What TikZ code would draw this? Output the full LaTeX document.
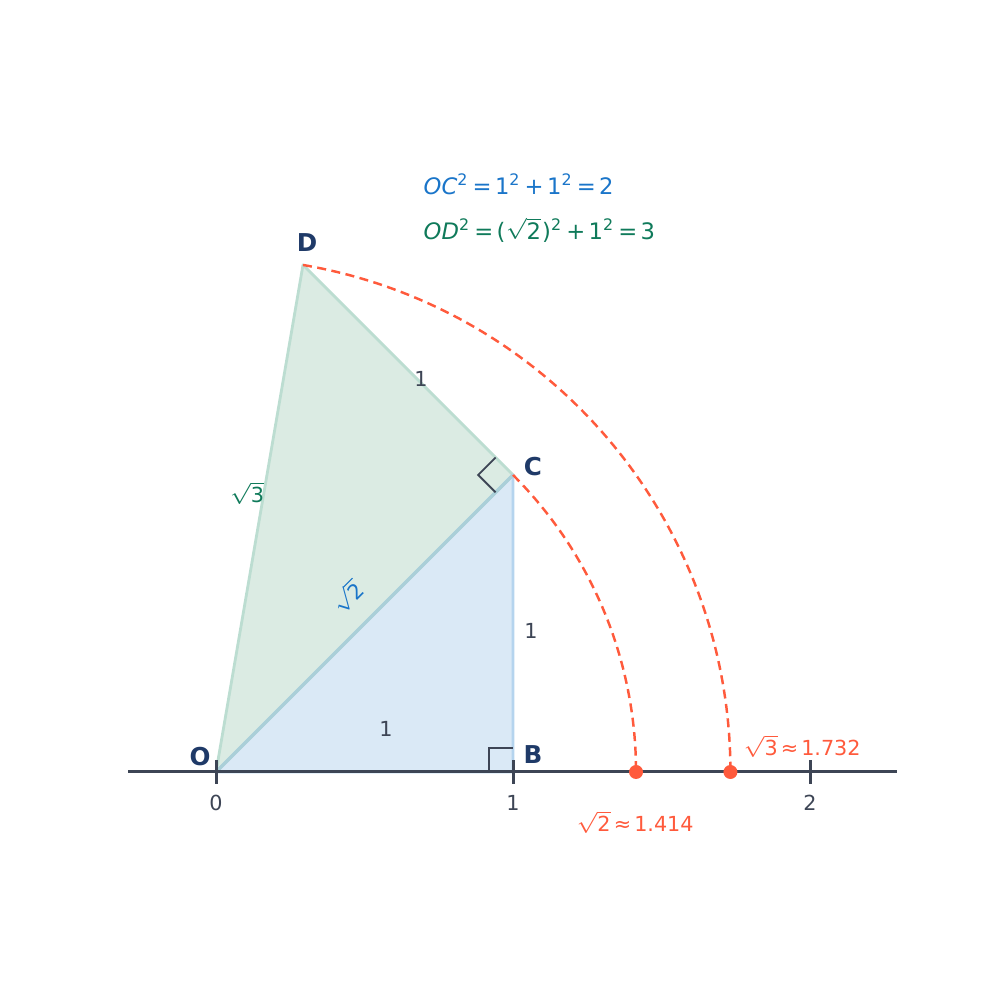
\documentclass[tikz,border=0pt]{standalone}
\usepackage{fontspec}
\setmainfont{DejaVu Sans}
\definecolor{navy}{HTML}{1F3A68}
\definecolor{axisgray}{HTML}{3D4555}
\definecolor{sidegray}{HTML}{3D4555}
\definecolor{rootblue}{HTML}{1A75C9}
\definecolor{rootgreen}{HTML}{0F7A5A}
\definecolor{arcred}{HTML}{FF5A3C}
\definecolor{fillblue}{HTML}{DAE9F6}
\definecolor{lineblue}{HTML}{B5D4EE}
\definecolor{fillgreen}{HTML}{DBEBE3}
\definecolor{linegreen}{HTML}{BCDDD1}
\definecolor{lineboth}{HTML}{AACFD8}
\newcommand{\op}[1]{\hspace{0.15em}#1\hspace{0.15em}}
\tikzset{
  pointlabel/.style={inner sep=0pt,text=navy,font=\fontsize{7}{8}\selectfont\bfseries},
  ticklabel/.style={inner sep=0pt,text=sidegray,font=\fontsize{5.9}{7}\selectfont},
  sidelabel/.style={inner sep=0pt,text=sidegray,font=\fontsize{5.9}{7}\selectfont},
  eqlabel/.style={inner sep=0pt,anchor=west,font=\fontsize{6.45}{8}\selectfont},
  arcline/.style={draw=arcred,line width=0.7pt,dash pattern=on 0.09cm off 0.055cm},
  marker/.style={circle,fill=arcred,inner sep=0pt,minimum size=0.14cm}
}
\begin{document}
\begin{tikzpicture}[x=2.97cm,y=2.97cm]
   \useasboundingbox (-0.7273,-0.7677) rectangle (2.6397,2.5993);
   \coordinate (O) at (0,0);
   \coordinate (B) at (1,0);
   \coordinate (C) at (1,1);
   \coordinate (D) at (0.2929,1.7071);
   \coordinate (left) at (-0.2963,0);
   \coordinate (right) at (2.2929,0);
   % triangles
   \filldraw[fill=fillgreen,draw=linegreen,line width=0.8pt,line join=round] (O) -- (C) -- (D) -- cycle;
   \filldraw[fill=fillblue,draw=lineblue,line width=0.8pt,line join=round] (O) -- (B) -- (C) -- cycle;
   \draw[lineboth,line width=1pt] (O) -- (C);
   % right angles
   \draw[axisgray,line width=0.55pt] (0.9192,0) -- (0.9192,0.0808) -- (1,0.0808);
   \draw[axisgray,line width=0.55pt] (0.9413,0.9413) -- (0.8826,1) -- (0.9413,1.0587);
   % number line
   \draw[axisgray,line width=0.85pt] (left) -- (right);
   \foreach \t in {0,1,2} {
     \draw[axisgray,line width=0.85pt] (\t,-0.0404) -- (\t,0.0404);
     \node[ticklabel] (tick\t) at (\t,-0.1044) {\t};
   }
   % arcs
   \draw[arcline] (C) arc[start angle=45,end angle=0,radius=1.41421];
   \draw[arcline] (D) arc[start angle=80.264,end angle=0,radius=1.73205];
   \node[marker] (r2) at (1.41421,0) {};
   \node[marker] (r3) at (1.73205,0) {};
   % labels
   \node[pointlabel] (lO) at (-0.0539,0.0505) {O};
   \node[pointlabel] (lB) at (1.0673,0.0572) {B};
   \node[pointlabel] (lC) at (1.0673,1.0269) {C};
   \node[pointlabel] (lD) at (0.3064,1.7811) {D};
   \node[sidelabel] (sOB) at (0.5724,0.1448) {1};
   \node[sidelabel] (sBC) at (1.0606,0.4747) {1};
   \node[sidelabel] (sCD) at (0.6902,1.3232) {1};
   \node[sidelabel,text=rootblue,rotate=45] (sOC) at (0.4411,0.5892) {$\sqrt{\mbox{2}}$};
   \node[sidelabel,text=rootgreen] (sOD) at (0.1044,0.9394) {$\sqrt{\mbox{3}}$};
   \node[sidelabel,text=arcred] (v2) at (1.4108,-0.1684) {$\sqrt{\mbox{2}}$\op{≈}1.414};
   \node[sidelabel,text=arcred] (v3) at (1.9731,0.0875) {$\sqrt{\mbox{3}}$\op{≈}1.732};
   \node[eqlabel,text=rootblue] (eqC) at (0.697,1.978)
     {\textit{OC}\textsuperscript{2}\op{=}1\textsuperscript{2}\op{+}1\textsuperscript{2}\op{=}2};
   \node[eqlabel,text=rootgreen] (eqD) at (0.697,1.825)
     {\textit{OD}\textsuperscript{2}\op{=}($\sqrt{\mbox{2}}$\kern0.05em)\textsuperscript{2}\op{+}1\textsuperscript{2}\op{=}3};
\end{tikzpicture}
\end{document}
